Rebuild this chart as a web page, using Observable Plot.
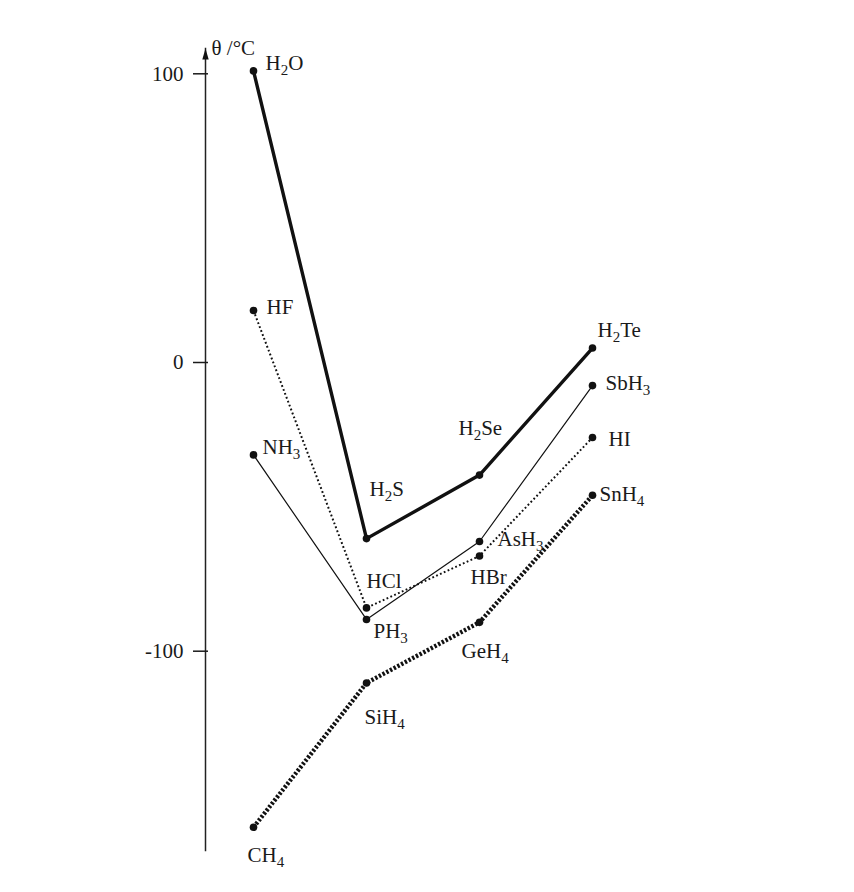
<!DOCTYPE html>
<html>
<head>
<meta charset="utf-8">
<script src="https://cdn.jsdelivr.net/npm/d3@7"></script>
<script src="https://cdn.jsdelivr.net/npm/@observablehq/plot@0.6"></script>
<style>
  body { margin: 0; background: #fff; }
</style>
</head>
<body>
<div id="chart"></div>
<script>
// ---- data ----
const compounds = ["CH4", "SiH4", "GeH4", "SnH4",
                   "NH3", "PH3", "AsH3", "SbH3",
                   "H2O", "H2S", "H2Se", "H2Te",
                   "HF", "HCl", "HBr", "HI"];
const groups   = [14, 14, 14, 14, 15, 15, 15, 15, 16, 16, 16, 16, 17, 17, 17, 17];
const periods  = [2, 3, 4, 5, 2, 3, 4, 5, 2, 3, 4, 5, 2, 3, 4, 5];
const boiling  = [-161, -111, -90, -46, -32, -89, -62, -8, 101, -61, -39, 5, 18, -85, -67, -26];
const yTicks   = [100, 0, -100];
const yLabel   = "θ /°C";

const data = compounds.map((name, i) => ({name, group: groups[i], period: periods[i], theta: boiling[i]}));

// ---- label placement (layout only) ----
const labelOffset = {
  CH4: [-6, 28], SiH4: [-2, 34], GeH4: [-18, 29], SnH4: [7, -1],
  NH3: [9, -8], PH3: [7, 12], AsH3: [18, -2], SbH3: [13, -2],
  H2O: [12, -8], H2S: [3, -49], H2Se: [-21, -47], H2Te: [5, -18],
  HF: [13, -3], HCl: [0, -27], HBr: [-9, 21], HI: [16, 2]
};

const lineStyle = {
  14: {strokeWidth: 4.4, strokeDasharray: "2.4,1.8", strokeLinecap: "butt"},
  15: {strokeWidth: 1.2},
  16: {strokeWidth: 3.4},
  17: {strokeWidth: 2, strokeDasharray: "1.8,2.4", strokeLinecap: "butt"}
};

const arrowHead = {
  draw(ctx) {
    ctx.moveTo(0, 0);
    ctx.lineTo(3.2, 11);
    ctx.lineTo(-3.2, 11);
    ctx.closePath();
  }
};

const lines = [14, 15, 16, 17].map(g =>
  Plot.line(data.filter(d => d.group === g), {
    x: "period", y: "theta", stroke: "#111", ...lineStyle[g]
  })
);

const labels = data.map(d =>
  Plot.text([d], {
    x: "period", y: "theta", text: "name",
    dx: labelOffset[d.name][0], dy: labelOffset[d.name][1],
    textAnchor: "start", fontSize: 21, fill: "#1a1a1a"
  })
);

const chart = Plot.plot({
  width: 854,
  height: 892,
  marginLeft: 205,
  marginRight: 0,
  marginTop: 48,
  marginBottom: 42,
  style: {fontFamily: "'Liberation Serif', 'DejaVu Serif', serif", fontSize: "21px", background: "#fff", color: "#1a1a1a"},
  x: {domain: [2, 5], range: [253, 592], axis: null},
  y: {domain: [-100, 100], range: [650.7, 73.3], axis: null},
  marks: [
    Plot.frame({anchor: "left", stroke: "#222", strokeWidth: 1.5}),
    Plot.dot([0], {frameAnchor: "top-left", symbol: arrowHead, r: 4, fill: "#111", stroke: "none"}),
    Plot.axisY({ticks: yTicks, label: null, tickSize: 15, dx: 3, tickPadding: 10, strokeWidth: 1.5, fontSize: 21, tickFormat: d => d < 0 ? "-" + Math.abs(d) : String(d)}),
    Plot.text([yLabel], {frameAnchor: "top-left", dx: 6, dy: -8, textAnchor: "start", fontSize: 21, fill: "#1a1a1a"}),
    ...lines,
    Plot.dot(data, {x: "period", y: "theta", r: 3.8, fill: "#111"}),
    ...labels
  ]
});

// render digits in compound formulas as subscripts
chart.querySelectorAll("text").forEach(t => {
  const s = t.textContent;
  if (!compounds.includes(s)) return;
  while (t.firstChild) t.removeChild(t.firstChild);
  const parts = s.match(/[A-Za-z]+|\d+/g);
  const ns = "http://www.w3.org/2000/svg";
  let sub = false;
  parts.forEach(p => {
    const ts = document.createElementNS(ns, "tspan");
    ts.textContent = p;
    if (/\d/.test(p)) {
      ts.setAttribute("font-size", "15");
      ts.setAttribute("dy", "5");
      sub = true;
    } else if (sub) {
      ts.setAttribute("dy", "-5");
      sub = false;
    }
    t.appendChild(ts);
  });
});

document.getElementById("chart").appendChild(chart);
</script>
</body>
</html>
